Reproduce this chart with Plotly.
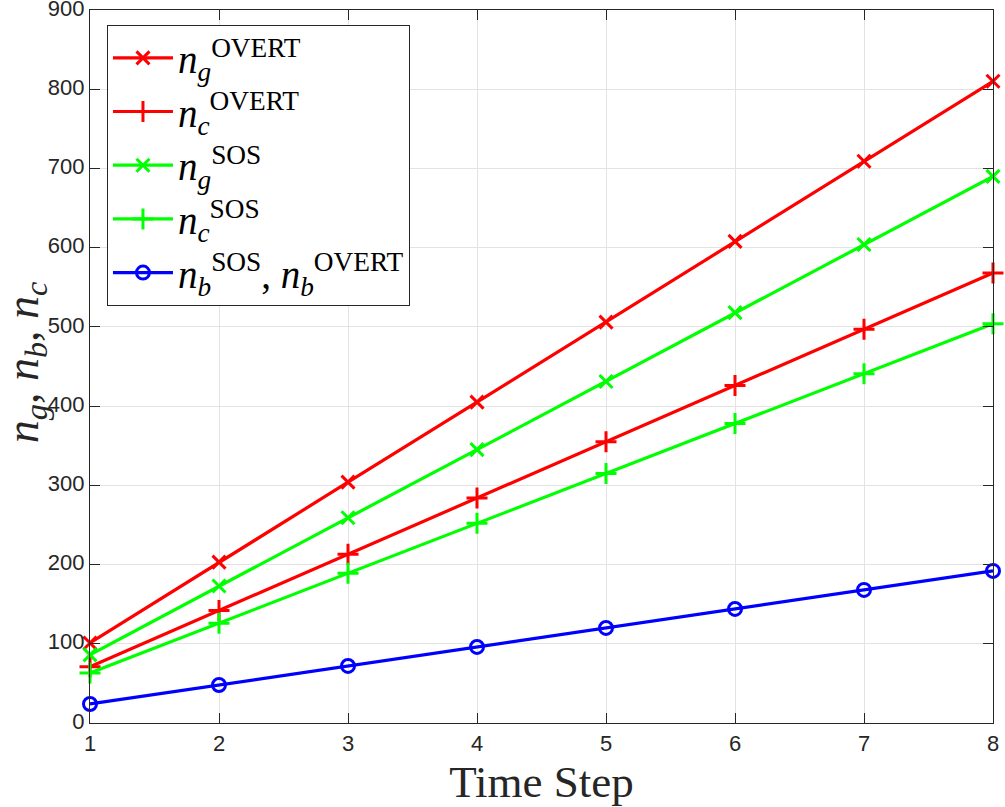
import plotly.graph_objects as go

time_step = [1, 2, 3, 4, 5, 6, 7, 8]
ng_overt = [101, 203, 304, 405, 506, 608, 709, 810]
nc_overt = [71, 142, 213, 284, 355, 426, 497, 568]
ng_sos = [86, 173, 259, 345, 431, 518, 604, 690]
nc_sos = [63, 126, 189, 252, 315, 378, 441, 504]
nb_both = [24, 48, 72, 96, 120, 144, 168, 192]

series_names = [
    "<i>n</i><sub><i>g</i></sub><sup>OVERT</sup>",
    "<i>n</i><sub><i>c</i></sub><sup>OVERT</sup>",
    "<i>n</i><sub><i>g</i></sub><sup>SOS</sup>",
    "<i>n</i><sub><i>c</i></sub><sup>SOS</sup>",
    "<i>n</i><sub><i>b</i></sub><sup>SOS</sup>, <i>n</i><sub><i>b</i></sub><sup>OVERT</sup>",
]
series_values = [ng_overt, nc_overt, ng_sos, nc_sos, nb_both]
colors = ["#FF0000", "#FF0000", "#00FF00", "#00FF00", "#0000FF"]
symbols = ["x-thin-open", "cross-thin-open", "x-thin-open", "cross-thin-open", "circle-open"]
sizes = [13, 15, 13, 15, 13]
y_title = "<i>n</i><sub><i>g</i></sub>, <i>n</i><sub><i>b</i></sub>, <i>n</i><sub><i>c</i></sub>"

fig = go.Figure()
for name, vals, c, s, sz in zip(series_names, series_values, colors, symbols, sizes):
    fig.add_trace(go.Scatter(
        x=time_step, y=vals, name=name, mode="lines+markers",
        line=dict(color=c, width=3.2),
        marker=dict(symbol=s, size=sz, color=c, line=dict(color=c, width=3)),
        cliponaxis=False,
    ))

axis_common = dict(
    showline=True, linecolor="#262626", linewidth=1.2, mirror="ticks",
    ticks="inside", ticklen=10, tickwidth=1.2, tickcolor="#262626",
    showgrid=True, gridcolor="#e3e3e3", gridwidth=1, zeroline=False,
    ticklabeloverflow="allow", automargin=False,
    tickfont=dict(family="Liberation Sans, Arial, sans-serif", size=22, color="#262626"),
)

fig.update_layout(
    width=1005, height=807,
    paper_bgcolor="white", plot_bgcolor="white",
    margin=dict(l=90, r=12, t=10, b=84),
    xaxis=dict(range=[1, 8], dtick=1,
               title=dict(text="Time Step", font=dict(family="Liberation Serif, serif", size=45, color="#262626"), standoff=14),
               **axis_common),
    yaxis=dict(range=[0, 900], dtick=100, ticklabelshift=-2, **axis_common),
    legend=dict(x=0.0188, y=0.979, xanchor="left", yanchor="top",
                bgcolor="white", bordercolor="#262626", borderwidth=1,
                font=dict(family="Liberation Serif, serif", size=39, color="black"),
                itemwidth=60, tracegroupgap=0),
    showlegend=True,
)

fig.add_annotation(
    text=y_title, textangle=-90, showarrow=False,
    xref="paper", yref="paper", x=-0.0709, y=0.506,
    xanchor="center", yanchor="middle",
    font=dict(family="Liberation Serif, serif", size=46, color="#262626"),
)

fig.write_html("out.html", config={"displayModeBar": False},
               post_script="document.body.style.margin='0';")
